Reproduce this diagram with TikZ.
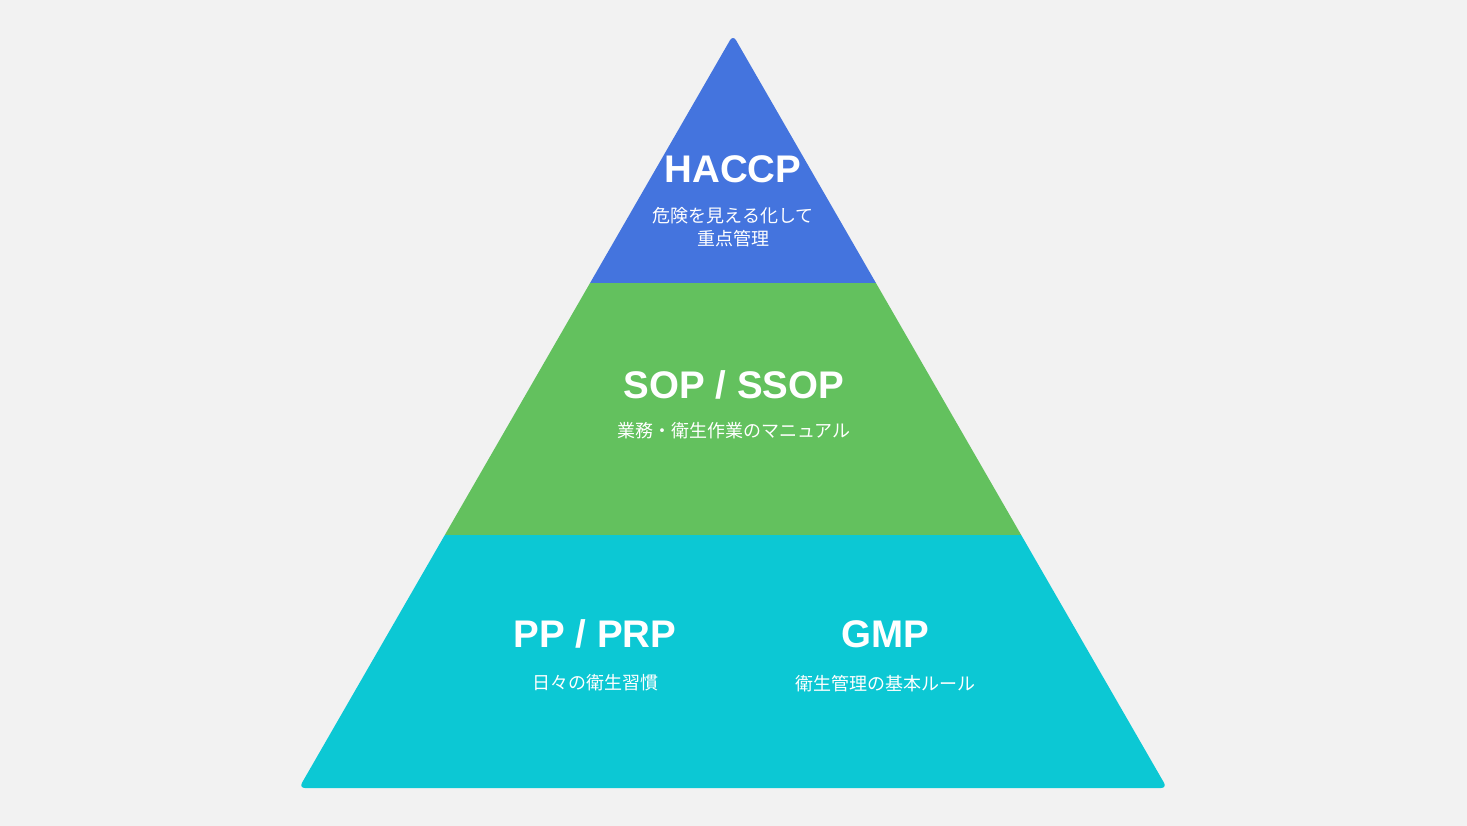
\documentclass[tikz,border=0pt]{standalone}
\usepackage{fontspec}
\setmainfont{Liberation Sans}
\newfontfamily\cjk{Noto Sans CJK JP}
\definecolor{bgc}{HTML}{F2F2F2}
\definecolor{topc}{HTML}{4474DE}
\definecolor{midc}{HTML}{63C15E}
\definecolor{botc}{HTML}{0CC8D4}
\tikzset{
  title/.style={text=white,font=\bfseries\fontsize{38.5}{42}\selectfont,inner sep=0pt},
  sub/.style={text=white,font=\cjk\fontsize{18}{23}\selectfont,inner sep=0pt,align=center},
}
\begin{document}
\begin{tikzpicture}[x=1pt,y=-1pt]
\fill[bgc] (0,0) rectangle (1467,826);
\begin{scope}
\clip[rounded corners=6pt] (733,35) -- (1167,788) -- (299,788) -- cycle;
\fill[topc] (280,20) rectangle (1190,283);
\fill[midc] (280,283) rectangle (1190,535);
\fill[botc] (280,535) rectangle (1190,800);
\end{scope}
\node[title] (haccp) at (733,169) {HACCP};
\node[sub] (haccps) at (733,227) {危険を見える化して\\重点管理};
\node[title] (sop) at (734,385) {SOP / SSOP};
\node[sub] (sops) at (734,431) {業務・衛生作業のマニュアル};
\node[title] (pp) at (595,634) {PP / PRP};
\node[sub] (pps) at (595,683) {日々の衛生習慣};
\node[title] (gmp) at (885,634) {GMP};
\node[sub] (gmps) at (885,684) {衛生管理の基本ルール};
\end{tikzpicture}
\end{document}
